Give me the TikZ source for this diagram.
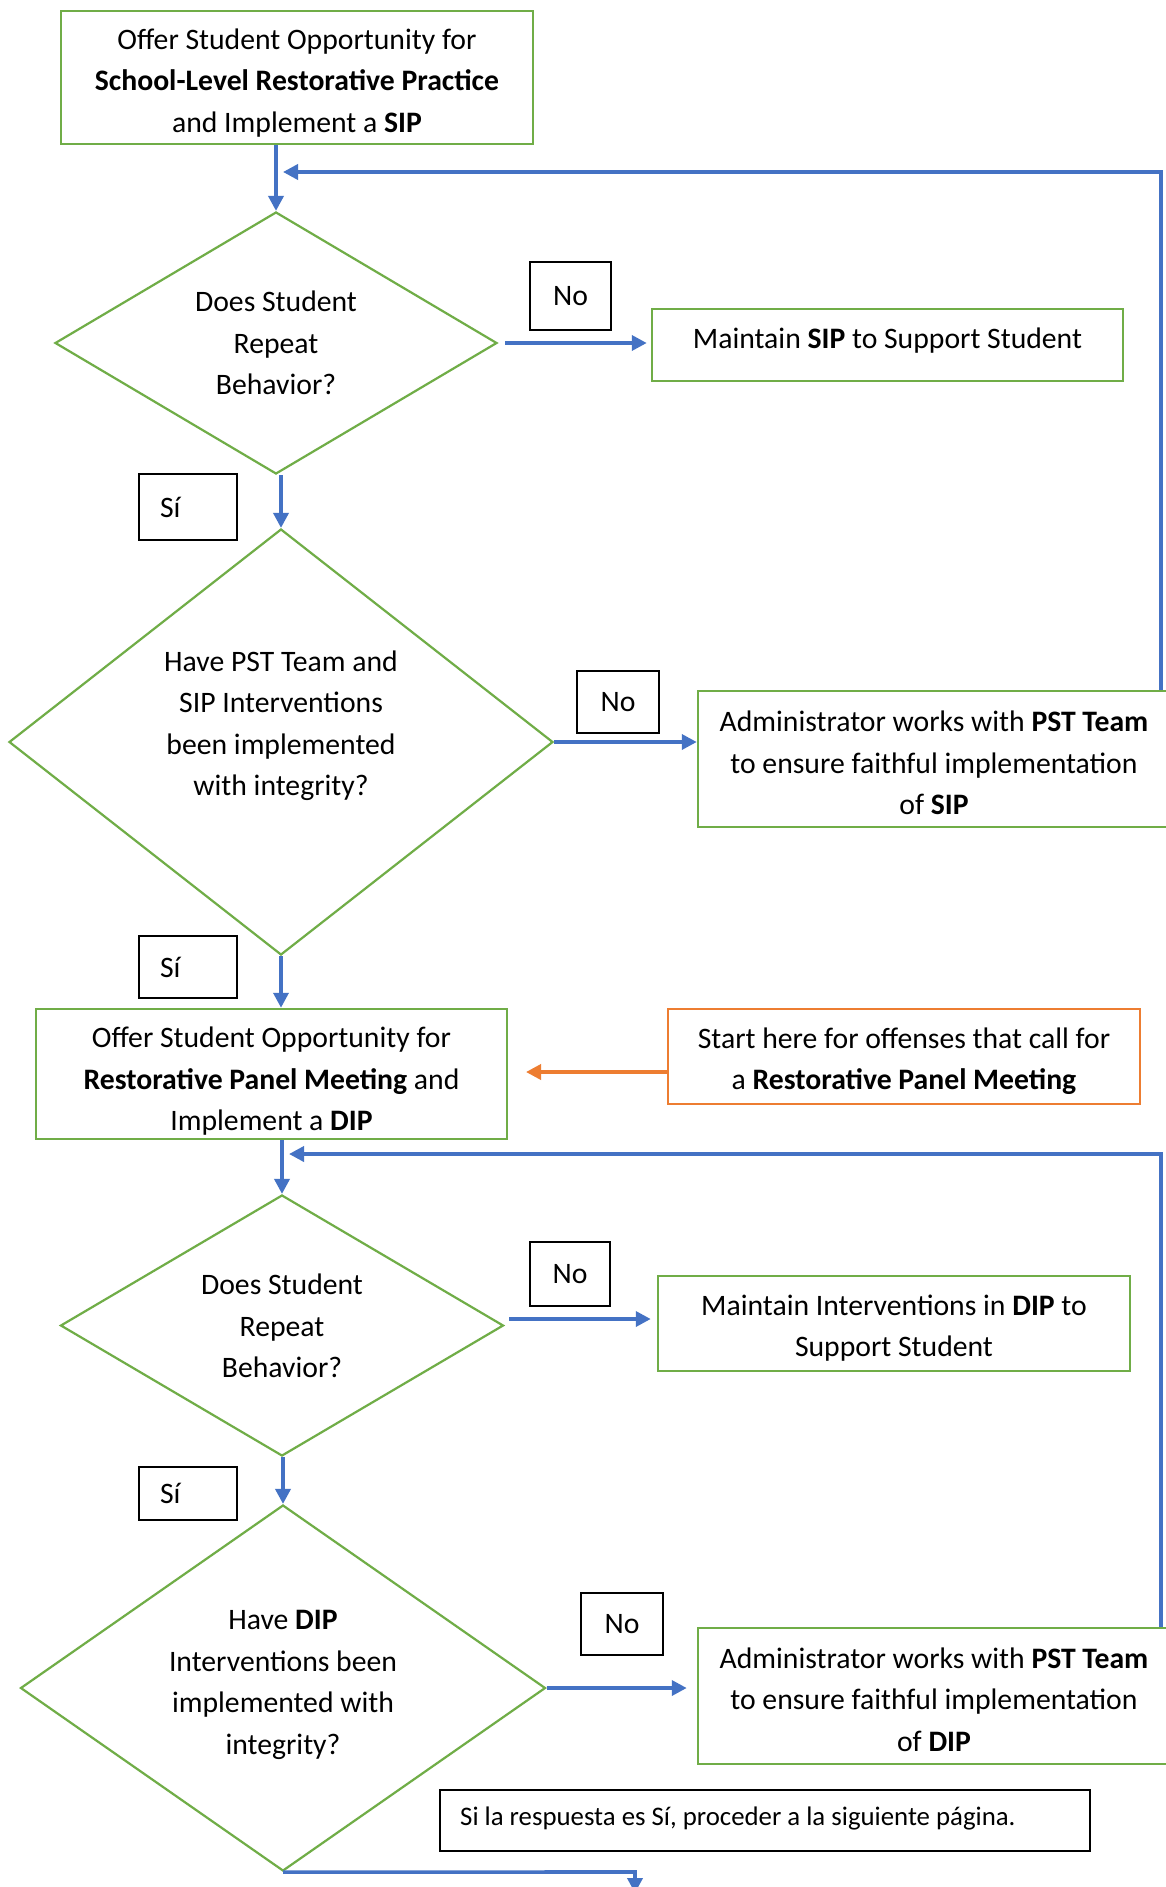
\documentclass[tikz,border=0pt]{standalone}
\usepackage{fontspec}
\setmainfont{Carlito}
\usetikzlibrary{arrows.meta,shapes.geometric,calc}
\definecolor{gr}{HTML}{70AD47}
\definecolor{bl}{HTML}{4472C4}
\definecolor{orc}{HTML}{ED7D31}
\begin{document}
\begin{tikzpicture}[x=1pt,y=-1pt,
  gbox/.style={draw=gr,line width=2.5pt,inner sep=0pt},
  obox/.style={gbox,draw=orc},
  dia/.style={diamond,draw=gr,line width=2.2pt,inner sep=0pt},
  txt/.style={align=center,inner sep=0pt,font=\fontsize{29.7}{41.5}\selectfont},
  nolbl/.style={draw=black,line width=1.8pt,inner sep=0pt,font=\fontsize{29.7}{34}\selectfont},
  silbl/.style={draw=black,line width=1.8pt,inner ysep=0pt,inner xsep=21pt,text width=56pt,align=left,font=\fontsize{29.7}{34}\selectfont},
  flow/.style={draw=bl,line width=3.6pt,-{Triangle[length=15pt,width=15pt]}},
  oflow/.style={draw=orc,line width=3.6pt,-{Triangle[length=15pt,width=15pt]}}
]
\useasboundingbox[fill=white] (0,0) rectangle (1165,1887);

% boxes
\node[gbox,minimum width=472pt,minimum height=133pt] (b1) at (297,77.5) {};
\node[txt] (b1t) at (297,83)
  {Offer Student Opportunity for\\\textbf{School-Level Restorative Practice}\\and Implement a \textbf{SIP}};
\node[gbox,minimum width=471pt,minimum height=72pt] (m1) at (887.5,345) {};
\node[txt] (m1t) at (887.5,341) {Maintain \textbf{SIP} to Support Student};
\node[gbox,minimum width=472pt,minimum height=136pt] (a1) at (934,759) {};
\node[txt] (a1t) at (934,763)
  {Administrator works with \textbf{PST Team}\\to ensure faithful implementation\\of \textbf{SIP}};
\node[gbox,minimum width=471pt,minimum height=130pt] (b2) at (271.5,1074) {};
\node[txt] (b2t) at (271.5,1081.5)
  {Offer Student Opportunity for\\\textbf{Restorative Panel Meeting} and\\Implement a \textbf{DIP}};
\node[obox,minimum width=472pt,minimum height=95pt] (o1) at (904,1056.5) {};
\node[txt] (o1t) at (904,1061)
  {Start here for offenses that call for\\a \textbf{Restorative Panel Meeting}};
\node[gbox,minimum width=472pt,minimum height=95pt] (m2) at (894,1323.5) {};
\node[txt] (m2t) at (894,1328)
  {Maintain Interventions in \textbf{DIP} to\\Support Student};
\node[gbox,minimum width=472pt,minimum height=136pt] (a2) at (934,1696) {};
\node[txt] (a2t) at (934,1699.5)
  {Administrator works with \textbf{PST Team}\\to ensure faithful implementation\\of \textbf{DIP}};
\node[draw=black,line width=1.8pt,minimum width=650pt,minimum height=61pt,inner sep=0pt] (sp) at (765,1820.5) {};
\node[anchor=west,inner sep=0pt,font=\fontsize{26.8}{31}\selectfont] (spt) at (460,1818.5)
  {Si la respuesta es Sí, proceder a la siguiente página.};

% diamonds
\node[dia,minimum width=442pt,minimum height=262pt] (d1) at (276,343) {};
\node[txt] (d1t) at (276,343) {Does Student\\Repeat\\Behavior?};
\node[dia,minimum width=544pt,minimum height=426pt] (d2) at (281,742) {};
\node[txt] (d2t) at (281,725.5) {Have PST Team and\\SIP Interventions\\been implemented\\with integrity?};
\node[dia,minimum width=443pt,minimum height=261pt] (d3) at (282,1325.5) {};
\node[txt] (d3t) at (282,1326) {Does Student\\Repeat\\Behavior?};
\node[dia,minimum width=525pt,minimum height=366pt] (d4) at (283,1688) {};
\node[txt] (d4t) at (283,1685) {Have \textbf{DIP}\\Interventions been\\implemented with\\integrity?};

% labels
\node[nolbl,minimum width=81pt,minimum height=68pt] (no1) at (570.5,296) {No};
\node[nolbl,minimum width=82pt,minimum height=62pt] (no2) at (618,702) {No};
\node[nolbl,minimum width=80pt,minimum height=64pt] (no3) at (570,1274) {No};
\node[nolbl,minimum width=82pt,minimum height=62pt] (no4) at (622,1624) {No};
\node[silbl,minimum height=66pt] (si1) at (188,507) {Sí};
\node[silbl,minimum height=62pt] (si2) at (188,967) {Sí};
\node[silbl,minimum height=53pt] (si3) at (188,1493.5) {Sí};

% connectors
\draw[flow] (d1.north |- b1.south) -- (d1.north);
\draw[flow] ([xshift=7pt]d1.east) -- ([xshift=-4pt]m1.west |- d1.east);
\draw[flow] (d2.north |- d1.south) -- (d2.north);
\draw[flow] (d2.east) -- (a1.west |- d2.east);
\draw[flow] (d2.south) -- (d2.south |- b2.north);
\coordinate (fbR1) at (1161,172);
\coordinate (fbL1) at (283,172);
\draw[flow] (a1.north -| fbR1) -- (fbR1) -- (fbL1);
\coordinate (oT) at (526,1072);
\draw[oflow] (o1.west |- oT) -- (oT);
\draw[flow] (d3.north |- b2.south) -- (d3.north);
\coordinate (m2a) at (509,1319);
\draw[flow] (m2a) -- ([xshift=-6pt]m2.west |- m2a);
\draw[flow] (d4.north |- d3.south) -- (d4.north);
\draw[flow] (d4.east) -- ([xshift=-10pt]a2.west |- d4.east);
\coordinate (fbR2) at (1161,1154);
\coordinate (fbL2) at (289,1154);
\draw[flow] (a2.north -| fbR2) -- (fbR2) -- (fbL2);
\coordinate (bc) at (635,1872);
\coordinate (be) at (635,1893);
\draw[flow] (d4.south) -- (bc) -- (be);
\end{tikzpicture}
\end{document}
